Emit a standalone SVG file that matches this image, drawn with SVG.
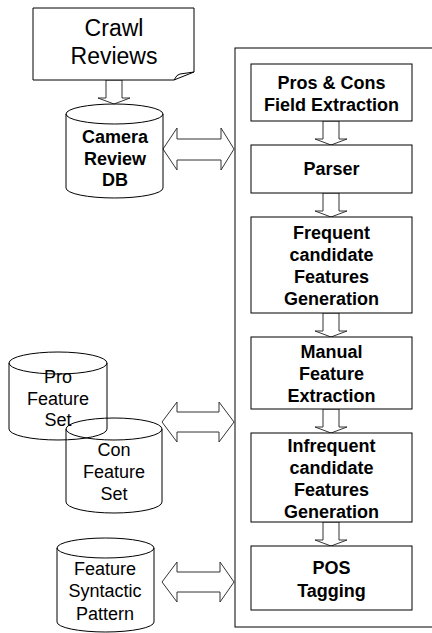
<svg xmlns="http://www.w3.org/2000/svg" width="432" height="633" viewBox="0 0 432 633">
<style>
.ln{fill:none;stroke:#000;stroke-width:1}
.box{fill:#fff;stroke:#000;stroke-width:1}
.arr{fill:#fff;stroke:#333;stroke-width:1}
.b{font-family:"Liberation Sans",Arial,sans-serif;font-weight:bold;font-size:18px;text-anchor:middle;fill:#000}
.r{font-family:"Liberation Sans",Arial,sans-serif;font-size:18px;text-anchor:middle;fill:#000}
.big{font-family:"Liberation Sans",Arial,sans-serif;font-size:23px;text-anchor:middle;fill:#000}
</style>
<rect width="432" height="633" fill="#fff"/>
<g id="container"><rect class="ln" x="235" y="48" width="220" height="579"/></g>
<g id="connectors">
<polygon class="arr" points="106,80 122,80 122,98 130,98 114,104 98,98 106,98"/>
<polygon class="arr" points="323,121 339,121 339,139 347,139 331,145 315,139 323,139"/>
<polygon class="arr" points="323,193 339,193 339,211 347,211 331,217 315,211 323,211"/>
<polygon class="arr" points="323,313 339,313 339,331 347,331 331,337 315,331 323,331"/>
<polygon class="arr" points="323,409 339,409 339,427 347,427 331,433 315,427 323,427"/>
<polygon class="arr" points="323,522 339,522 339,540 347,540 331,546 315,540 323,540"/>
<polygon class="arr" points="163,149 177,128 177,139 221,139 221,128 234,149 221,170 221,160 177,160 177,170"/>
<polygon class="arr" points="162,422 177,402 177,412 219,412 219,402 234,422 219,442 219,432 177,432 177,442"/>
<polygon class="arr" points="162,582 177,562 177,572 220,572 220,562 234,582 220,602 220,592 177,592 177,602"/>
</g>
<g id="crawl">
<path class="box" d="M33,8 H194 V72 L174,80 H33 Z"/>
<path class="ln" d="M174,80 Q177,74 180,74 L194,72"/>
<text class="big" x="114" y="36">Crawl</text>
<text class="big" x="114" y="64">Reviews</text>
</g>
<g id="camera-db">
<path class="ln" d="M66,114 V188 A48.5,10 0 0 0 163,188 V114"/>
<ellipse class="ln" cx="114.5" cy="114" rx="48.5" ry="10"/>
<text class="b" x="115" y="143">Camera</text>
<text class="b" x="115" y="165">Review</text>
<text class="b" x="115" y="186">DB</text>
</g>
<g id="pro-feature-set">
<path class="ln" d="M9,363 V429 A49,11 0 0 0 107,429 V363"/>
<ellipse class="ln" cx="58" cy="363" rx="49" ry="11"/>
<text class="r" x="58" y="383">Pro</text>
<text class="r" x="58" y="405">Feature</text>
<text class="r" x="58" y="426">Set</text>
</g>
<g id="con-feature-set">
<path class="ln" d="M66,429 V502 A48,11 0 0 0 162,502 V429"/>
<ellipse class="ln" cx="114" cy="429" rx="48" ry="11"/>
<text class="r" x="114" y="456">Con</text>
<text class="r" x="114" y="478">Feature</text>
<text class="r" x="114" y="500">Set</text>
</g>
<g id="feature-syntactic-pattern">
<path class="ln" d="M57,548 V622 A48.5,10 0 0 0 154,622 V548"/>
<ellipse class="ln" cx="105.5" cy="548" rx="48.5" ry="10"/>
<text class="r" x="105" y="575">Feature</text>
<text class="r" x="105" y="597">Syntactic</text>
<text class="r" x="105" y="620">Pattern</text>
</g>
<g id="pros-cons">
<rect class="box" x="251" y="64" width="161" height="57"/>
<text class="b" x="331.5" y="89">Pros &amp; Cons</text>
<text class="b" x="331.5" y="111">Field Extraction</text>
</g>
<g id="parser">
<rect class="box" x="251" y="145" width="161" height="48"/>
<text class="b" x="331.5" y="175">Parser</text>
</g>
<g id="frequent">
<rect class="box" x="251" y="217" width="161" height="96"/>
<text class="b" x="331.5" y="239">Frequent</text>
<text class="b" x="331.5" y="261">candidate</text>
<text class="b" x="331.5" y="283">Features</text>
<text class="b" x="331.5" y="305">Generation</text>
</g>
<g id="manual">
<rect class="box" x="251" y="337" width="161" height="72"/>
<text class="b" x="331.5" y="358">Manual</text>
<text class="b" x="331.5" y="380">Feature</text>
<text class="b" x="331.5" y="402">Extraction</text>
</g>
<g id="infrequent">
<rect class="box" x="251" y="433" width="161" height="89"/>
<text class="b" x="331.5" y="452">Infrequent</text>
<text class="b" x="331.5" y="474">candidate</text>
<text class="b" x="331.5" y="496">Features</text>
<text class="b" x="331.5" y="518">Generation</text>
</g>
<g id="pos">
<rect class="box" x="251" y="546" width="161" height="64"/>
<text class="b" x="331.5" y="574">POS</text>
<text class="b" x="331.5" y="597">Tagging</text>
</g>
</svg>
